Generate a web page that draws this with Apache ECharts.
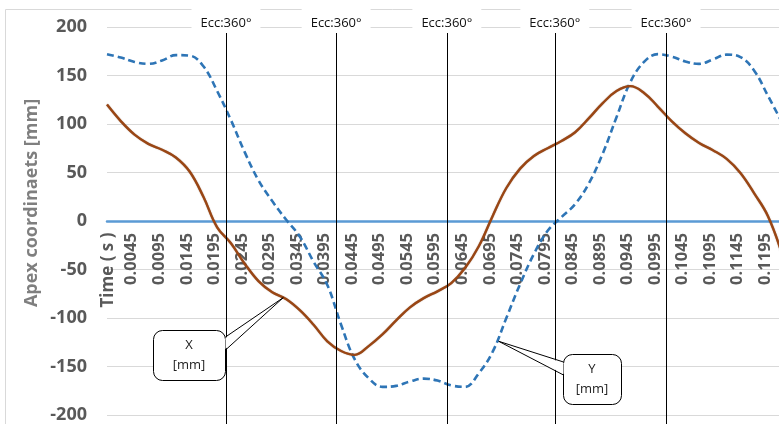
<!DOCTYPE html>
<html>
<head>
<meta charset="utf-8">
<script src="https://cdn.jsdelivr.net/npm/echarts@6/dist/echarts.min.js"></script>
<style>
  html, body { margin: 0; padding: 0; background: #fff; }
  #chart { width: 779px; height: 424px; }
</style>
</head>
<body>
<div id="chart"></div>
<script>
// time samples (s)
const timeS = [0, 0.0025, 0.005, 0.0075, 0.01, 0.0125, 0.015, 0.0175, 0.02, 0.0225,
  0.025, 0.0275, 0.03, 0.0325, 0.035, 0.0375, 0.04, 0.0425, 0.045, 0.0475,
  0.05, 0.0525, 0.055, 0.0575, 0.06, 0.0625, 0.065, 0.0675, 0.07, 0.0725,
  0.075, 0.0775, 0.08, 0.0825, 0.085, 0.0875, 0.09, 0.0925, 0.095, 0.0975,
  0.1, 0.1025, 0.105, 0.1075, 0.11, 0.1125, 0.115, 0.1175, 0.12, 0.1225];

// apex X coordinate [mm] (brown)
const xMm = [120, 103, 89, 79.5, 73.5, 65.5, 51, 25, -6.5, -23,
  -44, -62, -73.5, -80.5, -92, -107, -124, -134, -138, -129,
  -117, -102.5, -89, -79.5, -72.5, -64, -48.5, -26, 5, 34,
  54, 67, 75, 82.5, 91.5, 106, 121.5, 134, 139, 132,
  118, 103, 90.5, 80.5, 73, 64, 49.5, 28.5, 5, -33];

// apex Y coordinate [mm] (blue dashed)
const yMm = [172, 168.5, 164, 162, 165.5, 171, 170.5, 159.5, 134, 104,
  71, 42, 20.5, 1.5, -16, -42, -66, -107, -143, -162,
  -171, -170, -165.5, -162.5, -164.5, -169.5, -171, -157, -135, -100,
  -65, -34, -10, 4, 17.5, 39, 69.5, 107, 143, 164,
  172, 169.5, 164.5, 162, 166.5, 171.5, 169, 155, 129, 102];

// time axis labels
const tickLabels = ['0.0045', '0.0095', '0.0145', '0.0195', '0.0245', '0.0295',
  '0.0345', '0.0395', '0.0445', '0.0495', '0.0545', '0.0595', '0.0645', '0.0695',
  '0.0745', '0.0795', '0.0845', '0.0895', '0.0945', '0.0995', '0.1045', '0.1095',
  '0.1145', '0.1195'];

// eccentric 360° marker times
const eccTimes = [0.0216, 0.0416, 0.0617, 0.0813, 0.1015];
const eccLabel = 'Ecc:360°';

// callout anchors: [time, value]
const calloutX = [0.032, -79];
const calloutY = [0.0711, -124];

const FONT = 'Open Sans';
const X_MIN = 0, X_MAX = 0.122;

const chart = echarts.init(document.getElementById('chart'));

chart.setOption({
  animation: false,
  textStyle: { fontFamily: FONT },
  grid: [
    // plot area
    { left: 107, right: 0, top: 27, bottom: 9, outerBoundsMode: 'none', containLabel: false },
    // marker lines (run past the plot to the bottom edge)
    { left: 107, right: 0, top: 33, bottom: 0, outerBoundsMode: 'none', containLabel: false },
    // upper half, its bottom edge is the zero line: carries the time labels
    { left: 107, right: 0, top: 27, bottom: 203, outerBoundsMode: 'none', containLabel: false }
  ],
  xAxis: [
    {
      type: 'value', gridIndex: 0, min: X_MIN, max: X_MAX,
      axisLine: { onZero: true, lineStyle: { color: '#5B9BD5', width: 2.5 } },
      axisTick: { show: false }, axisLabel: { show: false },
      splitLine: { show: false }
    },
    { type: 'value', gridIndex: 1, min: X_MIN, max: X_MAX, show: false },
    {
      type: 'value', gridIndex: 2, min: X_MIN, max: X_MAX, position: 'bottom',
      axisLine: { show: false }, axisTick: { show: false }, splitLine: { show: false },
      axisLabel: {
        customValues: tickLabels.map(Number),
        formatter: v => tickLabels.find(s => Math.abs(Number(s) - v) < 1e-7) || '',
        rotate: 90, margin: 12, color: '#595959',
        fontSize: 16.5, fontWeight: 'bold', fontFamily: FONT
      }
    }
  ],
  yAxis: [
    {
      type: 'value', gridIndex: 0, min: -200, max: 200, interval: 50,
      axisLine: { show: false }, axisTick: { show: false },
      splitLine: { lineStyle: { color: '#D9D9D9', width: 1 } },
      axisLabel: { margin: 20, color: '#595959', fontSize: 18, fontWeight: 'bold', fontFamily: FONT }
    },
    { type: 'value', gridIndex: 1, min: 0, max: 1, show: false },
    { type: 'value', gridIndex: 2, min: 0, max: 1, show: false }
  ],
  series: [
    {
      name: 'Y [mm]', type: 'line', xAxisIndex: 0, yAxisIndex: 0,
      data: timeS.map((t, i) => [t, yMm[i]]),
      smooth: 0.4, showSymbol: false,
      lineStyle: { color: '#2E75B6', width: 2.6, type: [7, 4] },
      z: 3
    },
    {
      name: 'X [mm]', type: 'line', xAxisIndex: 0, yAxisIndex: 0,
      data: timeS.map((t, i) => [t, xMm[i]]),
      smooth: 0.4, showSymbol: false,
      lineStyle: { color: '#9A4614', width: 2.4, shadowColor: 'rgba(90,40,10,0.5)', shadowBlur: 1 },
      z: 4
    },
    {
      name: 'ecc', type: 'line', xAxisIndex: 1, yAxisIndex: 1, data: [],
      markLine: {
        silent: true, symbol: ['none', 'none'], precision: 5,
        lineStyle: { color: '#000', width: 1, type: 'solid' },
        label: {
          position: 'end', formatter: eccLabel, distance: 0,
          backgroundColor: '#fff', padding: [8, 9, 3, 9],
          color: '#111', fontSize: 13, fontFamily: FONT
        },
        data: eccTimes.map(t => ({ xAxis: t }))
      },
      z: 5
    }
  ]
});

// frame, axis titles and callouts (anchored to data coordinates)
function callout(anchor, box, baseSide, text) {
  const tip = chart.convertToPixel({ xAxisIndex: 0, yAxisIndex: 0 }, anchor);
  const bx = baseSide === 'right' ? box.x + box.w : box.x;
  const b1 = [bx, box.y + box.b1], b2 = [bx, box.y + box.b2];
  return [
    { type: 'rect', shape: { x: box.x + 0.5, y: box.y + 0.5, width: box.w, height: box.h, r: 9 },
      style: { fill: '#fff', stroke: '#000', lineWidth: 1 }, z: 20 },
    { type: 'polygon', shape: { points: [tip, [b1[0] + 0.5, b1[1] + 1], [b2[0] + 0.5, b2[1] - 1]] },
      style: { fill: '#fff' }, z: 21 },
    { type: 'polyline', shape: { points: [[b1[0] + 0.5, b1[1]], tip, [b2[0] + 0.5, b2[1]]] },
      style: { stroke: '#000', lineWidth: 1, fill: null }, z: 22 },
    { type: 'text', x: box.x + box.w / 2, y: box.y + box.h / 2, z: 23,
      style: { text: text, align: 'center', verticalAlign: 'middle', fill: '#222',
        font: '13px "' + FONT + '"', lineHeight: 20 } }
  ];
}

chart.setOption({
  graphic: [
    { type: 'rect', shape: { x: 5.5, y: 9.5, width: 900, height: 600 },
      style: { fill: null, stroke: '#D9D9D9', lineWidth: 1 }, z: -10, silent: true },
    { type: 'text', x: 32, y: 203, rotation: Math.PI / 2,
      style: { text: 'Apex coordinaets [mm]', align: 'center', verticalAlign: 'middle',
        fill: '#7F7F7F', font: 'bold 18px "' + FONT + '"' } },
    { type: 'text', x: 108, y: 270, rotation: Math.PI / 2,
      style: { text: 'Time ( s )', align: 'center', verticalAlign: 'middle',
        fill: '#595959', font: 'bold 17px "' + FONT + '"' } }
  ].concat(
    callout(calloutX, { x: 153, y: 330, w: 72, h: 50, b1: 7, b2: 20 }, 'right', 'X\n[mm]'),
    callout(calloutY, { x: 563, y: 354, w: 58, h: 50, b1: 8, b2: 21 }, 'left', 'Y\n[mm]')
  )
});
</script>
</body>
</html>
